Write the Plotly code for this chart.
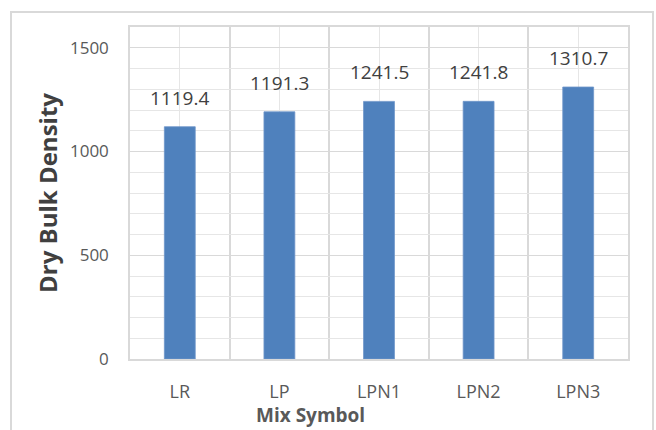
import plotly.graph_objects as go

# Mix designs and their measured dry bulk density
mix_symbols = ["LR", "LP", "LPN1", "LPN2", "LPN3"]
dry_bulk_density = [1119.4, 1191.3, 1241.5, 1241.8, 1310.7]
y_tick_values = [0, 500, 1000, 1500]

positions = list(range(len(mix_symbols)))

BAR_COLOR = "#4f81bd"
GRID_MAJOR = "#d9d9d9"
GRID_MINOR = "#e6e6e6"
TEXT_DARK = "#404040"
TEXT_GREY = "#595959"
FONT = "Open Sans, Liberation Sans, sans-serif"

L, R, T, B = 130, 28, 27, 71
W, H = 656, 430
pw, ph = W - L - R, H - T - B

fig = go.Figure()
fig.add_trace(go.Bar(
    x=positions,
    y=dry_bulk_density,
    width=0.31,
    marker=dict(color=BAR_COLOR, line=dict(color="#6f96c9", width=0.8)),
    hoverinfo="x+y",
))

# value labels sitting above each bar
annotations = [
    dict(x=p, y=v, xref="x", yref="y", text=f"{v:.1f}", showarrow=False,
         yanchor="bottom", yshift=14,
         font=dict(family=FONT, size=19, color=TEXT_DARK))
    for p, v in zip(positions, dry_bulk_density)
]
# x-axis title, set left of the plot centre
annotations.append(dict(
    x=(310 - L) / pw, y=(H - B - 415) / ph, xref="paper", yref="paper",
    text="<b>Mix Symbol</b>", showarrow=False,
    xanchor="center", yanchor="middle",
    font=dict(family=FONT, size=19, color=TEXT_GREY),
))

fig.update_layout(
    width=W, height=H,
    margin=dict(l=L, r=R, t=T, b=B),
    paper_bgcolor="white",
    plot_bgcolor="white",
    showlegend=False,
    annotations=annotations,
    font=dict(family=FONT, color=TEXT_GREY),
    shapes=[dict(
        type="rect", xref="paper", yref="paper",
        x0=(11 - L) / pw, x1=(653 - L) / pw,
        y0=(H - B - 445) / ph, y1=(H - B - 12) / ph,
        line=dict(color="#d9d9d9", width=2), layer="below",
    )],
)

fig.update_xaxes(
    range=[-0.5, len(mix_symbols) - 0.5],
    tickmode="array", tickvals=positions, ticktext=mix_symbols,
    ticks="outside", ticklen=16, tickcolor="rgba(0,0,0,0)",
    tickfont=dict(family=FONT, size=18, color=TEXT_GREY),
    showgrid=True, gridcolor=GRID_MINOR, gridwidth=1,
    minor=dict(tick0=-0.5, dtick=1, showgrid=True, gridcolor=GRID_MAJOR,
               gridwidth=1.5, ticks=""),
    showline=True, linecolor=GRID_MAJOR, linewidth=1.5, mirror=True,
    zeroline=False, fixedrange=True,
)

fig.update_yaxes(
    range=[0, 1600],
    tickmode="array", tickvals=y_tick_values,
    ticks="outside", ticklen=16, tickcolor="rgba(0,0,0,0)",
    tickfont=dict(family=FONT, size=17, color=TEXT_GREY),
    showgrid=True, gridcolor=GRID_MAJOR, gridwidth=1,
    minor=dict(dtick=100, showgrid=True, gridcolor=GRID_MINOR, gridwidth=1,
               ticks=""),
    showline=True, linecolor=GRID_MAJOR, linewidth=1.5, mirror=True,
    zeroline=False, fixedrange=True,
    title=dict(text="<b>Dry Bulk Density</b>", standoff=6,
               font=dict(family=FONT, size=24, color=TEXT_DARK)),
)

fig.write_html("out.html")
